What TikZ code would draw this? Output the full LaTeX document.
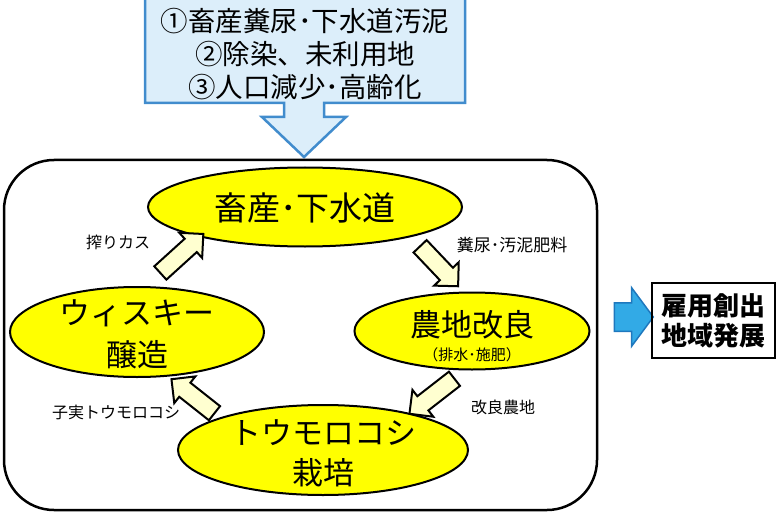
\documentclass[tikz,border=0pt]{standalone}
\usepackage{fontspec}
\setmainfont{Noto Sans CJK JP}
\usetikzlibrary{shapes.geometric,shapes.arrows,calc}
\definecolor{ellyellow}{RGB}{255,255,0}
\definecolor{cream}{RGB}{255,255,208}
\definecolor{calloutfill}{RGB}{220,238,250}
\definecolor{calloutline}{RGB}{65,140,205}
\definecolor{bluefill}{RGB}{50,170,230}
\definecolor{blueline}{RGB}{30,120,190}
\tikzset{
  ell/.style={ellipse, draw=black, line width=2pt, fill=ellyellow, inner sep=0pt},
  bigtxt/.style={font=\fontsize{31}{36}\selectfont, inner sep=0pt},
  smalltxt/.style={font=\fontsize{16}{19}\selectfont, inner sep=0pt},
  toptxt/.style={font=\fontsize{27.5}{30}\selectfont, inner sep=0pt},
  barrow/.style={single arrow, draw=black, line width=2pt, fill=cream, inner xsep=0pt,
    inner ysep=8pt, minimum width=32pt, single arrow head extend=8pt, single arrow tip angle=90},
}
\newcommand{\blockarrow}[3]{%
  \path let \p1=(#1), \p2=(#2), \n1={atan2(\y2-\y1,\x2-\x1)}, \n2={veclen(\x2-\x1,\y2-\y1)} in
    node[barrow, minimum height=\n2, rotate=\n1] (#3) at ($(#1)!0.5!(#2)$) {};}
\begin{document}
\begin{tikzpicture}[x=1pt,y=1pt]
\useasboundingbox (0,0) rectangle (781,-513);
% callout at top
\draw[fill=calloutfill, draw=calloutline, line width=2.5pt, line join=miter]
  (145,3) -- (465,3) -- (465,-103) -- (324,-103) -- (324,-117) -- (346,-117)
  -- (304,-157) -- (262,-117) -- (284,-117) -- (284,-103) -- (145,-103) -- cycle;
\node[toptxt] (c1) at (305,-21) {①畜産糞尿･下水道汚泥};
\node[toptxt] (c2) at (305,-54) {②除染、未利用地};
\node[toptxt] (c3) at (305,-87) {③人口減少･高齢化};
% big rounded frame
\draw[line width=2.5pt, rounded corners=50pt] (4,-160) rectangle (597,-510);
% ellipses
\node[ell, minimum width=314pt, minimum height=79pt] (chiku) at (305,-207) {};
\node[bigtxt, font=\fontsize{33}{36}\selectfont] (chikut) at (305,-208) {畜産･下水道};
\node[ell, minimum width=235pt, minimum height=77pt] (nochi) at (472,-331) {};
\node[bigtxt] (nochit) at (472,-325) {農地改良};
\node[font=\fontsize{15}{18}\selectfont, inner sep=0pt] (nochis) at (472,-355) {（排水･施肥）};
\node[ell, minimum width=290pt, minimum height=90pt] (toumo) at (323,-450) {};
\node[bigtxt] (toumot1) at (323,-433) {トウモロコシ};
\node[bigtxt] (toumot2) at (323,-473) {栽培};
\node[ell, minimum width=254pt, minimum height=90pt] (whisky) at (137,-332) {};
\node[bigtxt] (whiskyt1) at (137,-313) {ウィスキー};
\node[bigtxt] (whiskyt2) at (137,-355) {醸造};
% block arrows
\coordinate (a1s) at (417,-243); \coordinate (a1e) at (455,-283);
\coordinate (a2s) at (458,-376); \coordinate (a2e) at (413,-411);
\coordinate (a3s) at (218,-416); \coordinate (a3e) at (175,-382);
\coordinate (a4s) at (157,-276); \coordinate (a4e) at (200,-237);
\blockarrow{a1s}{a1e}{arr1}
\blockarrow{a2s}{a2e}{arr2}
\blockarrow{a3s}{a3e}{arr3}
\blockarrow{a4s}{a4e}{arr4}
% labels
\node[smalltxt, font=\fontsize{17}{20}\selectfont] (l1) at (512,-245) {糞尿･汚泥肥料};
\node[smalltxt] (l2) at (503,-407) {改良農地};
\node[smalltxt] (l3) at (116,-412) {子実トウモロコシ};
\node[smalltxt] (l4) at (118,-242) {搾りカス};
% right arrow and box
\node[single arrow, draw=blueline, fill=bluefill, line width=1.5pt, inner xsep=0pt,
  inner ysep=13.5pt, minimum width=57pt, minimum height=39pt, single arrow head extend=15pt,
  single arrow tip angle=107] (rarrow) at (628.5,-317) {};
\node[draw=black, line width=2.5pt, minimum width=123pt, minimum height=75pt,
  align=center, font=\bfseries\fontsize{26}{30}\selectfont, inner sep=0pt] (result) at (713.5,-320.5) {雇用創出\\地域発展};
\end{tikzpicture}
\end{document}
